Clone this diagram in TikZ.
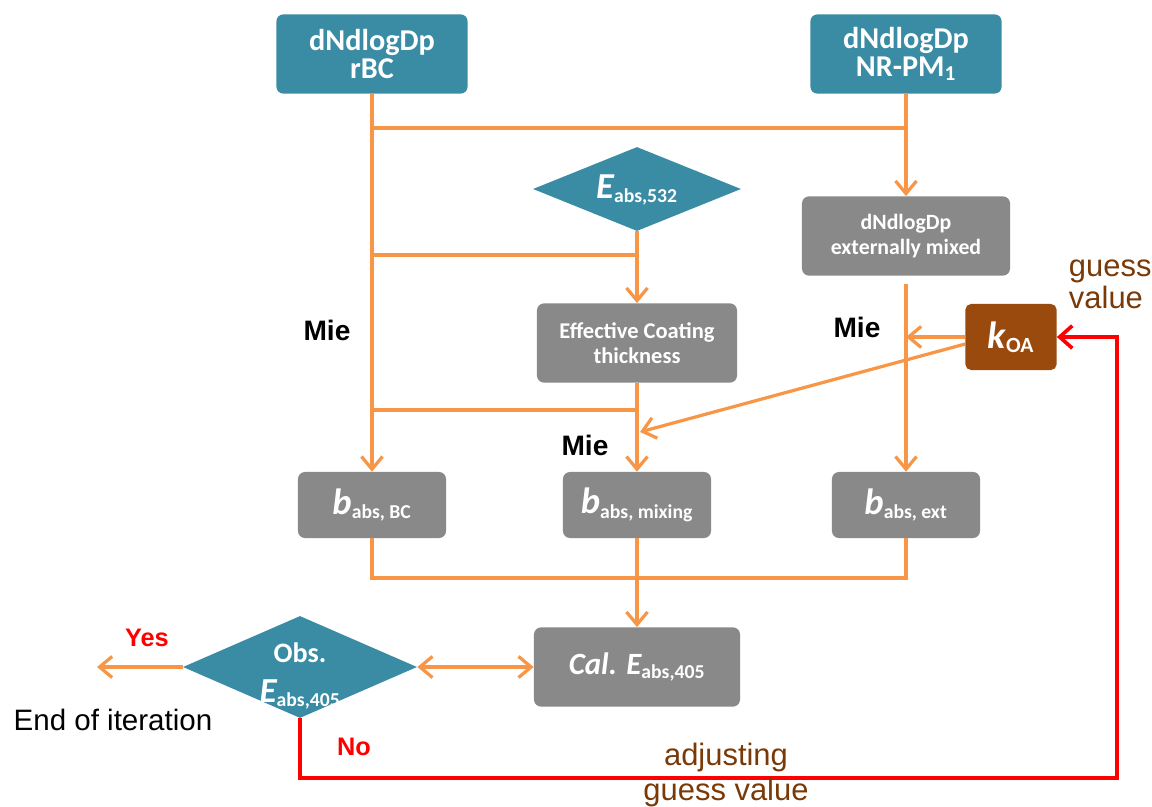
\documentclass[tikz,border=0pt]{standalone}
\usepackage{fontspec}
\setmainfont{Carlito}
\newfontfamily\arialfont{Liberation Sans}
\usepackage{xcolor}
\usepackage{tikz}
\usetikzlibrary{positioning,shapes.geometric,arrows.meta}

\definecolor{boxteal}{HTML}{3A8CA5}
\definecolor{boxgrey}{HTML}{898989}
\definecolor{boxbrown}{HTML}{9A4A0C}
\definecolor{lineorange}{HTML}{F79646}
\definecolor{textbrown}{HTML}{7A3A08}

\tikzset{
  tealbox/.style={rectangle, rounded corners=5pt, fill=boxteal, text=white, align=center, inner sep=0pt},
  greybox/.style={rectangle, rounded corners=5pt, fill=boxgrey, text=white, align=center, inner sep=0pt},
  brownbox/.style={rectangle, rounded corners=4pt, fill=boxbrown, text=white, align=center, inner sep=0pt},
  decision/.style={diamond, fill=boxteal, inner sep=0pt},
  inside/.style={text=white, align=center, inner sep=0pt},
  bsize/.style={minimum width=3.7cm, minimum height=1.65cm, font=\bfseries\fontsize{20}{22}\selectfont},
  flow/.style={draw=lineorange, line width=2.3pt, -{Straight Barb[length=9pt,width=15pt]}},
  twoway/.style={draw=lineorange, line width=2.3pt, {Straight Barb[length=9pt,width=15pt]}-{Straight Barb[length=9pt,width=15pt]}},
  link/.style={draw=lineorange, line width=2.3pt},
  back/.style={draw=red, line width=2.6pt, -{Straight Barb[length=9pt,width=16pt]}},
  mie/.style={font=\arialfont\bfseries\fontsize{20}{24}\selectfont},
  answer/.style={font=\arialfont\bfseries\fontsize{18}{22}\selectfont, text=red},
  note/.style={font=\arialfont\fontsize{22}{25}\selectfont, text=textbrown, align=center}
}

\begin{document}
\begin{tikzpicture}[x=0.025cm, y=-0.025cm]
    \useasboundingbox (0,0) rectangle (1152,807);

    \node[tealbox, minimum width=4.78cm, minimum height=1.98cm, font=\bfseries\fontsize{21.5}{20}\selectfont] (rbc) at (372,54) {dNdlogDp\\rBC};
    \node[tealbox, minimum width=4.78cm, minimum height=1.98cm, font=\bfseries\fontsize{21.5}{20}\selectfont] (nrpm) at (906,54) {dNdlogDp\\NR-PM\textsubscript{1}};
    \node[decision, minimum width=5.2cm, minimum height=2.1cm] (eabs) at (637,189) {};
    \node[inside, font=\bfseries\fontsize{20}{22}\selectfont] (eabstext) at (637,190) {{\fontsize{26}{26}\selectfont\itshape E}\textsubscript{abs,532}};
    \node[greybox, minimum width=5.2cm, minimum height=1.98cm, font=\bfseries\fontsize{15.5}{18}\selectfont] (extmix) at (906,236) {dNdlogDp\\externally mixed};
    \node[greybox, minimum width=5cm, minimum height=1.98cm, font=\bfseries\fontsize{16}{18}\selectfont] (coat) at (637,343) {Effective Coating\\thickness};
    \node[brownbox, minimum width=2.28cm, minimum height=1.65cm, font=\bfseries\fontsize{22}{24}\selectfont] (koa) at (1011,337) {{\fontsize{27}{27}\selectfont\itshape k}\textsubscript{OA}};

    \node[greybox, bsize] (bbc) at (372,505) {{\fontsize{26}{26}\selectfont\itshape b}\textsubscript{abs, BC}};
    \node[greybox, bsize] (bmix) at (637,505) {{\fontsize{26}{26}\selectfont\itshape b}\textsubscript{abs, mixing}};
    \node[greybox, bsize] (bext) at (906,505) {{\fontsize{26}{26}\selectfont\itshape b}\textsubscript{abs, ext}};

    \node[greybox, minimum width=5.15cm, minimum height=1.98cm, font=\bfseries\fontsize{20}{22}\selectfont] (cal) at (637,667) {{\fontsize{22}{22}\selectfont\itshape Cal. E}\textsubscript{abs,405}};
    \node[decision, minimum width=5.85cm, minimum height=2.55cm] (obs) at (300,667) {};
    \node[inside, font=\bfseries\fontsize{20}{28}\selectfont] (obstext) at (300,676) {Obs.\\{\fontsize{25}{25}\selectfont\itshape E}\textsubscript{abs,405}};

    \coordinate (split) at (0,128);
    \coordinate (coatin) at (0,255);
    \coordinate (mixin) at (0,410);
    \coordinate (sumup) at (0,578);
    \coordinate (mixhit) at (640,432);
    \coordinate (stop) at (97,667);
    \coordinate (loop) at (1117,778);

    \draw[flow] (rbc) -- (bbc);
    \draw[link] (rbc |- split) -- (nrpm |- split);
    \draw[flow] (nrpm) -- (extmix);
    \draw[flow] (eabs) -- (coat);
    \draw[link] (rbc |- coatin) -- (eabs |- coatin);
    \draw[flow] (coat) -- (bmix);
    \draw[link] (rbc |- mixin) -- (coat |- mixin);
    \draw[flow, shorten <=0.2cm] (extmix) -- (bext);
    \draw[flow] (koa.west) -- (koa.west -| extmix.south);
    \draw[flow] ([yshift=-5pt]koa.west) -- (mixhit);
    \draw[link] (bbc.south) -- (bbc |- sumup) -- (bext |- sumup) -- (bext.south);
    \draw[flow] (bmix) -- (cal);
    \draw[twoway] (obs) -- (cal);
    \draw[flow] (obs) -- (stop);
    \draw[back] (obs.south) |- (loop) |- (koa.east);

    \node[mie] (mieleft) at (327,330) {Mie};
    \node[mie] (miemid) at (585,445) {Mie};
    \node[mie] (mieright) at (857,327) {Mie};
    \node[answer] (yes) at (147,638) {Yes};
    \node[answer] (no) at (354,747) {No};
    \node[font=\arialfont\fontsize{21}{24}\selectfont] (endit) at (113,720) {End of iteration};
    \node[note, align=left, anchor=west, font=\arialfont\fontsize{22}{23}\selectfont] (guess) at (1064,284) {guess\\value};
    \node[note] (adjust) at (726,775) {adjusting\\guess value};
\end{tikzpicture}
\end{document}
